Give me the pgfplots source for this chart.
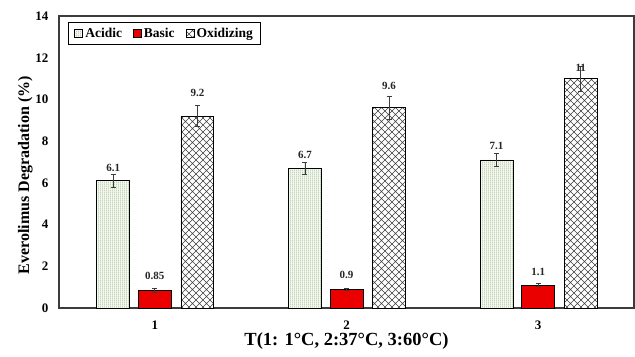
\documentclass[border=0pt]{standalone}
\usepackage{pgfplots}
\pgfplotsset{compat=1.18}
\usepackage{pgfplotstable}
\usepackage{fontspec}
\setmainfont{Liberation Serif}
\usetikzlibrary{patterns}
\definecolor{acfill}{RGB}{244,247,238}
\definecolor{acline}{RGB}{170,195,160}
\definecolor{myred}{RGB}{235,0,0}
\definecolor{axgray}{RGB}{60,60,60}
\pgfdeclarepatternformonly{diamonds}{\pgfqpoint{-0.5pt}{-0.5pt}}{\pgfqpoint{7.5pt}{7.5pt}}{\pgfqpoint{7pt}{7pt}}{
  \pgfsetlinewidth{0.6pt}
  \pgfpathmoveto{\pgfqpoint{0pt}{0pt}}\pgfpathlineto{\pgfqpoint{7pt}{7pt}}
  \pgfpathmoveto{\pgfqpoint{0pt}{7pt}}\pgfpathlineto{\pgfqpoint{7pt}{0pt}}
  \pgfusepath{stroke}}
\pgfdeclarepatternformonly{vfine}{\pgfqpoint{0pt}{0pt}}{\pgfqpoint{2pt}{2pt}}{\pgfqpoint{2pt}{2pt}}{
  \pgfsetlinewidth{0.5pt}
  \pgfpathmoveto{\pgfqpoint{0.5pt}{0pt}}\pgfpathlineto{\pgfqpoint{0.5pt}{2pt}}
  \pgfusepath{stroke}}

\pgfplotstableread{
x y err
1 6.1 0.3
2 6.7 0.3
3 7.1 0.3
}\acidic
\pgfplotstableread{
x y err
1 0.85 0.08
2 0.9 0.05
3 1.1 0.06
}\basic
\pgfplotstableread{
x y err
1 9.2 0.5
2 9.6 0.55
3 11 0.6
}\oxid

\begin{document}
\begin{tikzpicture}
\begin{axis}[
  ybar,
  scale only axis,
  width=575pt, height=292pt,
  xmin=0.5, xmax=3.5,
  ymin=0, ymax=14,
  ytick={0,2,...,14},
  xtick={1,2,3},
  major tick length=0pt,
  axis line style={axgray, line width=1.1pt},
  tick label style={font=\fontsize{13}{15}\selectfont\bfseries},
  /pgf/number format/assume math mode=true,
  yticklabel style={xshift=-7pt},
  xticklabel style={yshift=-9pt},
  ylabel={\bfseries Everolimus Degradation (\%)},
  ylabel style={font=\fontsize{16}{18}\selectfont, at={(ticklabel cs:0.455)}, yshift=-4pt},
  xlabel={\bfseries T(1: 1\textdegree C, 2:37\textdegree C, 3:60\textdegree C)},
  xlabel style={font=\fontsize{18.5}{20}\selectfont, yshift=3pt},
  bar width=0.172,
  legend style={at={(0.0155,0.979)}, anchor=north west, legend columns=3,
    draw=black, line width=1pt, font=\fontsize{13.5}{15}\selectfont\bfseries,
    inner xsep=6pt, inner ysep=3.5pt,
    /tikz/every even column/.append style={column sep=9pt}},
  legend image code/.code={\draw[#1, line width=0.9pt] (0pt,-4pt) rectangle (8pt,4pt);},
  error bars/y dir=both, error bars/y explicit,
  error bars/error bar style={axgray, line width=0.8pt},
  error bars/error mark options={rotate=90, mark size=2.5pt, line width=0.8pt, axgray},
]
\addplot[bar shift=-0.217, draw=black, line width=0.8pt, fill=acfill,
  postaction={pattern=vfine, pattern color=acline}]
  table[x=x, y=y, y error=err] {\acidic};
\addlegendentry{Acidic}
\addplot[bar shift=0, draw=black, line width=0.8pt, fill=myred]
  table[x=x, y=y, y error=err] {\basic};
\addlegendentry{Basic}
\addplot[bar shift=0.222, draw=black, line width=0.8pt, fill=white,
  postaction={pattern=diamonds, pattern color=black!75}]
  table[x=x, y=y, y error=err] {\oxid};
\addlegendentry{Oxidizing}
% value labels
\addplot[bar shift=0, draw=none, fill=none, forget plot,
  nodes near coords, point meta=explicit symbolic,
  every node near coord/.append style={anchor=center, font=\fontsize{11}{12}\selectfont\bfseries, text=black!85}]
  coordinates {
  (0.783,6.72) [6.1]
  (1.0,1.55) [0.85]
  (1.222,10.3) [9.2]
  (1.783,7.35) [6.7]
  (2.0,1.58) [0.9]
  (2.222,10.65) [9.6]
  (2.783,7.75) [7.1]
  (3.0,1.75) [1.1]
  (3.222,11.5) [11]
  };
\end{axis}
\path (current axis.south west) ++(-59pt,-48pt) coordinate (bl);
\path (current axis.north east) ++(1pt,16pt) coordinate (tr);
\useasboundingbox (bl) rectangle (tr);
\end{tikzpicture}
\end{document}
